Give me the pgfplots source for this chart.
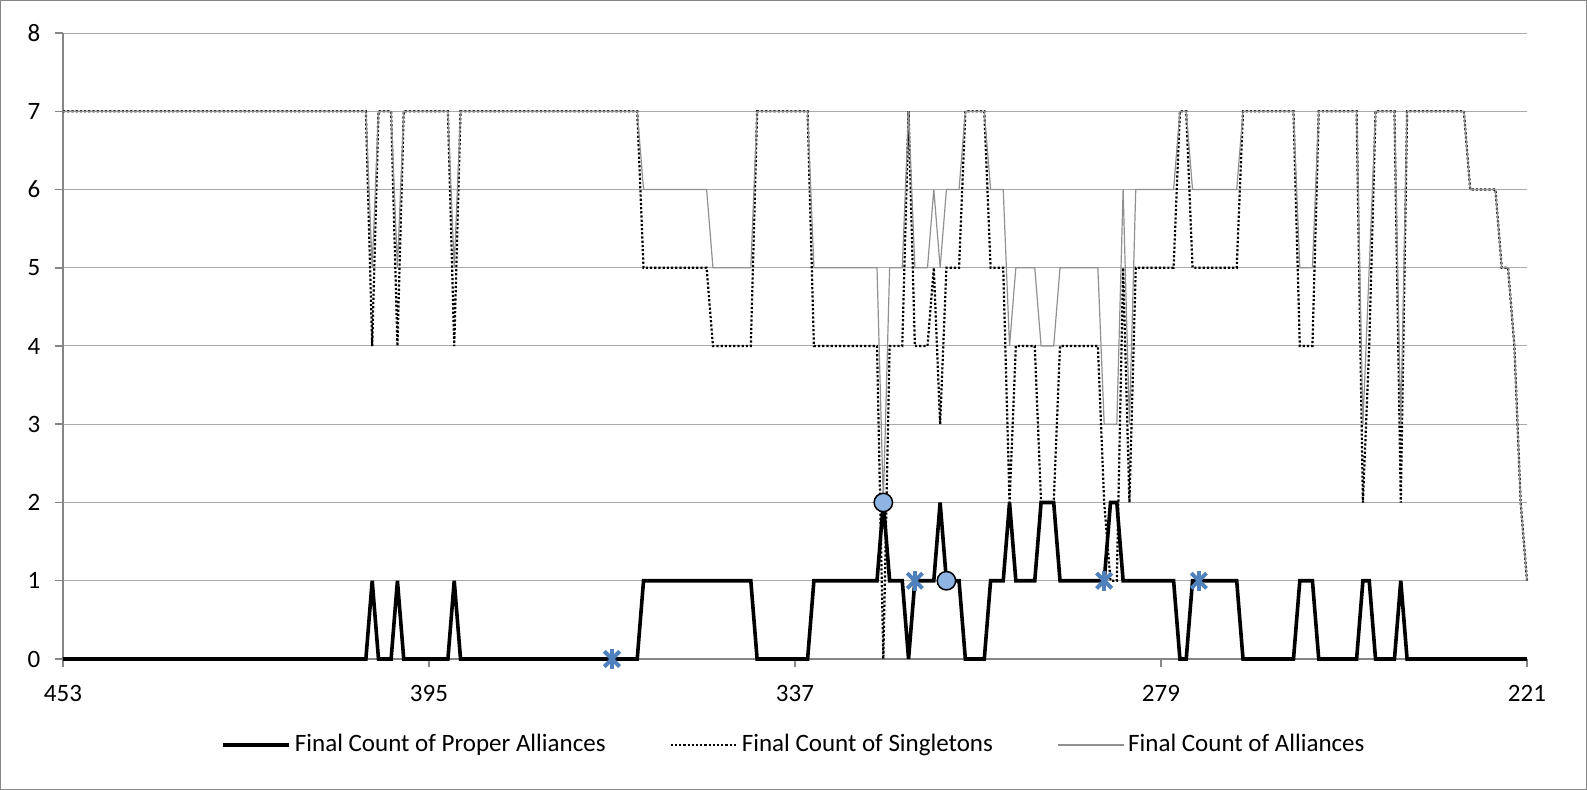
\documentclass[border=0pt]{standalone}
\usepackage{pgfplots}
\pgfplotsset{compat=1.18}
\usepackage{fontspec}
\setmainfont{Carlito}
\definecolor{gridc}{RGB}{170,170,170}
\definecolor{axc}{RGB}{134,134,134}
\definecolor{allc}{RGB}{145,145,145}
\definecolor{starc}{RGB}{79,129,189}
\definecolor{circc}{RGB}{141,180,226}
\begin{document}
\fontsize{12.5}{15}\selectfont
\begin{tikzpicture}
\useasboundingbox (-31.5pt,-65.5pt) rectangle (762pt,329.5pt);
\draw[axc, line width=0.5pt] (-31.25pt,-65.25pt) rectangle (761.75pt,329.25pt);
\begin{axis}[
  at={(0,0)}, anchor=south west,
  scale only axis, width=732pt, height=313pt,
  x dir=reverse, xmin=221, xmax=453, ymin=0, ymax=8,
  xtick={453,395,337,279,221}, ytick={0,1,2,3,4,5,6,7,8},
  axis x line*=bottom, axis y line*=left,
  axis line style={axc, line width=0.75pt, -},
  ymajorgrids, major grid style={gridc, line width=0.5pt},
  tick align=outside, major tick length=4pt,
  tick style={axc, line width=0.75pt},
  /pgf/number format/assume math mode=true,
  tick label style={font=\fontsize{12.5}{15}\selectfont},
  xticklabel style={yshift=-5pt},
  yticklabel style={xshift=-3pt},
  clip=false,
  legend columns=3,
  legend style={draw=none, fill=none, at={(0.5,-0.1374)}, anchor=center,
    font=\fontsize{12.5}{15}\selectfont,
    /tikz/every even column/.append style={column sep=30pt}},
  legend image code/.code={\draw[#1] (0pt,0pt) -- (33pt,0pt);},
]
% Final Count of Proper Alliances
\addplot[black, line width=1.8pt] coordinates {
(453,0) (405,0) (404,1) (403,0) (401,0) (400,1) (399,0) (392,0) (391,1) (390,0)
(362,0) (361,1) (344,1) (343,0) (335,0) (334,1) (324,1) (323,2) (322,1) (320,1)
(319,0) (318,1) (315,1) (314,2) (313,1) (311,1) (310,0) (307,0) (306,1) (304,1)
(303,2) (302,1) (299,1) (298,2) (296,2) (295,1) (288,1) (287,2) (286,2) (285,1)
(277,1) (276,0) (275,0) (274,1) (267,1) (266,0) (258,0) (257,1) (255,1) (254,0)
(248,0) (247,1) (246,1) (245,0) (242,0) (241,1) (240,0) (221,0)};
\addlegendentry{Final Count of Proper Alliances}
% Final Count of Singletons
\addplot[black, line width=1.1pt, dash pattern=on 1.1pt off 1pt] coordinates {
(453,7) (405,7) (404,4) (403,7) (401,7) (400,4) (399,7) (392,7) (391,4) (390,7)
(362,7) (361,5) (351,5) (350,4) (344,4) (343,7) (335,7) (334,4) (324,4) (323,0)
(322,4) (320,4) (319,7) (318,4) (316,4) (315,5) (314,3) (313,5) (311,5) (310,7)
(307,7) (306,5) (304,5) (303,2) (302,4) (299,4) (298,2) (296,2) (295,4) (289,4)
(288,2) (287,1) (286,1) (285,5) (284,2) (283,5) (277,5) (276,7) (275,7) (274,5)
(267,5) (266,7) (258,7) (257,4) (255,4) (254,7) (248,7) (247,2) (246,4) (245,7)
(242,7) (241,2) (240,7) (231,7) (230,6) (226,6) (225,5) (224,5) (223,4) (222,2)
(221,1)};
\addlegendentry{Final Count of Singletons}
% Final Count of Alliances
\addplot[allc, line width=0.6pt] coordinates {
(453,7) (405,7) (404,5) (403,7) (401,7) (400,5) (399,7) (392,7) (391,5) (390,7)
(362,7) (361,6) (351,6) (350,5) (344,5) (343,7) (335,7) (334,5) (324,5) (323,2)
(322,5) (320,5) (319,7) (318,5) (316,5) (315,6) (314,5) (313,6) (311,6) (310,7)
(307,7) (306,6) (304,6) (303,4) (302,5) (299,5) (298,4) (296,4) (295,5) (289,5)
(288,3) (286,3) (285,6) (284,3) (283,6) (277,6) (276,7) (275,7) (274,6) (267,6)
(266,7) (258,7) (257,5) (255,5) (254,7) (248,7) (247,3) (246,5) (245,7) (242,7)
(241,3) (240,7) (231,7) (230,6) (226,6) (225,5) (224,5) (223,4) (222,2) (221,1)};
\addlegendentry{Final Count of Alliances}
% markers
\addplot[only marks, mark=*, mark size=4.6pt,
  mark options={fill=circc, draw=black, line width=0.75pt}, forget plot]
  coordinates {(323,2) (313,1)};
\addplot[only marks, mark=x, mark size=5.4pt,
  mark options={draw=starc, line width=2pt}, forget plot]
  coordinates {(366,0) (318,1) (288,1) (273,1)};
\addplot[only marks, mark=|, mark size=5pt,
  mark options={draw=starc, line width=2pt}, forget plot]
  coordinates {(366,0) (318,1) (288,1) (273,1)};
\end{axis}
\end{tikzpicture}
\end{document}
